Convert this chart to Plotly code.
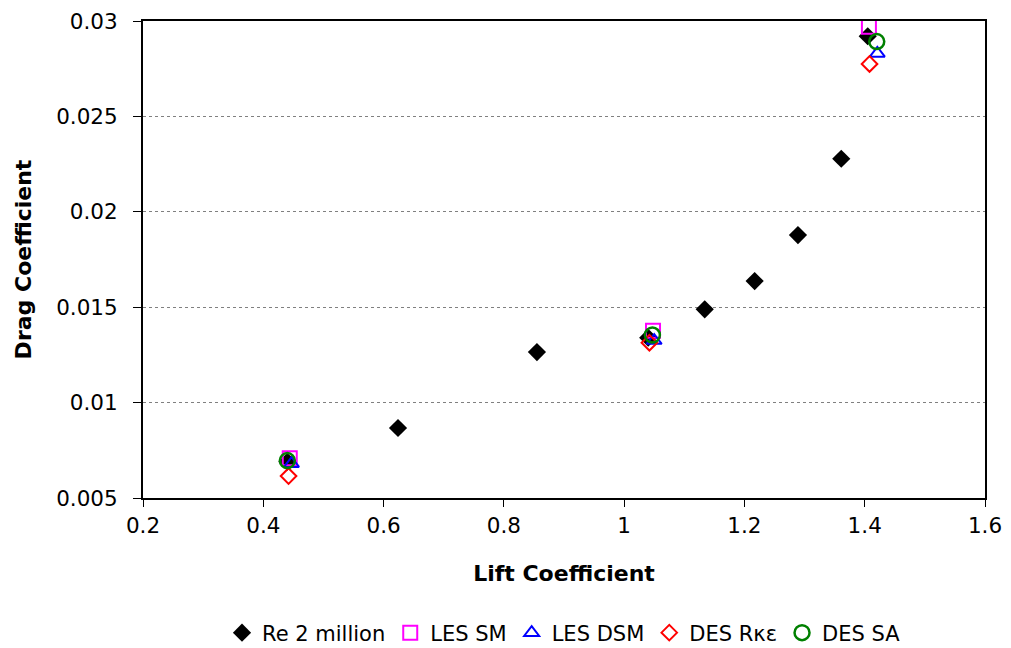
import plotly.graph_objects as go

# Data
re_x = [0.44, 0.624, 0.855, 1.04, 1.134, 1.217, 1.289, 1.361, 1.405]
re_y = [0.0069, 0.00867, 0.01265, 0.0134, 0.01489, 0.01637, 0.01878, 0.02278, 0.0292]

les_sm_x = [0.444, 1.048, 1.407]
les_sm_y = [0.00708, 0.01377, 0.0297]

les_dsm_x = [0.447, 1.05, 1.421]
les_dsm_y = [0.0068, 0.01325, 0.02830]

des_rke_x = [0.442, 1.042, 1.408]
des_rke_y = [0.00615, 0.01314, 0.02775]

des_sa_x = [0.44, 1.047, 1.42]
des_sa_y = [0.00696, 0.01354, 0.02892]

x_ticks = [0.2, 0.4, 0.6, 0.8, 1.0, 1.2, 1.4, 1.6]
y_ticks = [0.005, 0.01, 0.015, 0.02, 0.025, 0.03]

FONT = "DejaVu Sans, Arial, sans-serif"

fig = go.Figure()
fig.add_trace(go.Scatter(x=re_x, y=re_y, mode="markers", name="Re 2 million",
                         marker=dict(symbol="diamond", size=14, color="black",
                                     line=dict(width=0))))
fig.add_trace(go.Scatter(x=les_sm_x, y=les_sm_y, mode="markers", name="LES SM",
                         marker=dict(symbol="square-open", size=14, color="#FF00FF",
                                     line=dict(width=2, color="#FF00FF"))))
fig.add_trace(go.Scatter(x=les_dsm_x, y=les_dsm_y, mode="markers", name="LES DSM",
                         marker=dict(symbol="triangle-up-open", size=13, color="#0000FF",
                                     line=dict(width=2, color="#0000FF"))))
fig.add_trace(go.Scatter(x=des_rke_x, y=des_rke_y, mode="markers", name="DES Rκε",
                         marker=dict(symbol="diamond-open", size=12, color="#FF0000",
                                     line=dict(width=2, color="#FF0000"))))
fig.add_trace(go.Scatter(x=des_sa_x, y=des_sa_y, mode="markers", name="DES SA",
                         marker=dict(symbol="circle-open", size=15, color="#008000",
                                     line=dict(width=2.5, color="#008000"))))

fig.update_layout(
    width=1011, height=648,
    margin=dict(l=143, r=26, t=21, b=150, autoexpand=False),
    paper_bgcolor="white", plot_bgcolor="white",
    font=dict(family=FONT, size=21, color="black"),
    showlegend=True,
    legend=dict(orientation="h", xref="paper", x=0.5, xanchor="center",
                yref="container", y=(648 - 633) / 648, yanchor="middle",
                font=dict(size=21, family=FONT, color="black"), itemwidth=30,
                tracegroupgap=0, bgcolor="rgba(0,0,0,0)"),
)
fig.update_xaxes(
    range=[0.2, 1.6], tickvals=x_ticks, ticks="outside", ticklen=7, tickwidth=1,
    tickcolor="black", showline=True, linecolor="black", linewidth=2, mirror=True,
    showgrid=False, zeroline=False, tickfont=dict(size=21.5), automargin=False,
    title=dict(text="<b>Lift Coefficient</b>", font=dict(size=22), standoff=29),
)
fig.update_yaxes(
    range=[0.005, 0.03], tickvals=y_ticks, ticks="outside", ticklen=8, tickwidth=1,
    tickcolor="black", showline=True, linecolor="black", linewidth=2, mirror=True,
    showgrid=True, gridcolor="#808080", griddash="dot", gridwidth=1, zeroline=False,
    tickfont=dict(size=21.5), automargin=False, ticklabelstandoff=11,
    title=dict(text="<b>Drag Coefficient</b>", font=dict(size=22), standoff=18),
)

fig.write_html("out.html")
